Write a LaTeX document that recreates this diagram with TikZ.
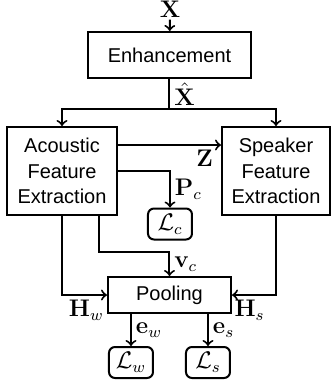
\documentclass[tikz,border=0pt]{standalone}
\usepackage{amsmath,amssymb}
\usepackage[no-math]{fontspec}
\setmainfont{Liberation Sans}
\usepackage{tikz}

\tikzset{
	blk/.style={draw,line width=1pt,rectangle,align=center,font=\fontsize{10}{12.7}\selectfont,inner sep=0pt},
	lossbox/.style={draw,line width=1pt,rounded corners=3pt,inner sep=0pt,minimum width=22pt,minimum height=15.5pt,font=\large},
	conn/.style={line width=1pt,->},
	lbl/.style={font=\large,inner sep=2pt},
}

\begin{document}
\begin{tikzpicture}[x=0.5pt,y=-0.5pt]
		\useasboundingbox (0,0) rectangle (331,388);

		% >>> blocks
		\node[blk,minimum width=81.5pt,minimum height=23pt] (enh) at (169.5,55) {Enhancement};
		\node[blk,minimum width=55pt,minimum height=44pt] (ac) at (62,171) {Acoustic\\Feature\\Extraction};
		\node[blk,minimum width=54pt,minimum height=44pt] (sp) at (276,171) {Speaker\\Feature\\Extraction};
		\node[blk,minimum width=61.5pt,minimum height=18pt] (pool) at (169.5,295) {Pooling};
		\node[lossbox] (lc) at (170,224) {$\mathcal{L}_c$};
		\node[lossbox] (lw) at (131,362.5) {$\mathcal{L}_w$};
		\node[lossbox] (ls) at (208,362.5) {$\mathcal{L}_s$};
		% <<< blocks

		% >>> connectors
		\node[lbl,inner sep=1pt] (xin) at (170,9) {$\mathbf{X}$};
		\coordinate (split) at (169.5,109);
		\coordinate (vbend) at (99,252);
		\draw[conn] (xin) -- (enh);
		\draw[line width=1pt] (enh.south) -- node[lbl,right] (xhat) {$\hat{\mathbf{X}}$} (split);
		\draw[conn] (split) -| (ac.north);
		\draw[conn] (split) -| (sp.north);
		\draw[conn] ([yshift=13pt]ac.east) -- ([yshift=13pt]sp.west)
			node[lbl,pos=0.84,below] (zlab) {$\mathbf{Z}$};
		\draw[conn] (ac.east) -| (lc.north)
			node[lbl,pos=0.75,right] (pc) {$\mathbf{P}_c$};
		\draw[conn] (ac.south) |- (pool.west)
			node[lbl,pos=0.77,below] (hw) {$\mathbf{H}_w$};
		\draw[conn] (ac.south -| vbend) -- (vbend) -| (pool.north)
			node[lbl,pos=0.75,right] (vc) {$\mathbf{v}_c$};
		\draw[conn] (sp.south) |- (pool.east)
			node[lbl,pos=0.8,below] (hs) {$\mathbf{H}_s$};
		\draw[conn] (pool.south -| lw.north) -- node[lbl,right] (ew) {$\mathbf{e}_w$} (lw.north);
		\draw[conn] (pool.south -| ls.north) -- node[lbl,right] (es) {$\mathbf{e}_s$} (ls.north);
		% <<< connectors

	\end{tikzpicture}
\end{document}
